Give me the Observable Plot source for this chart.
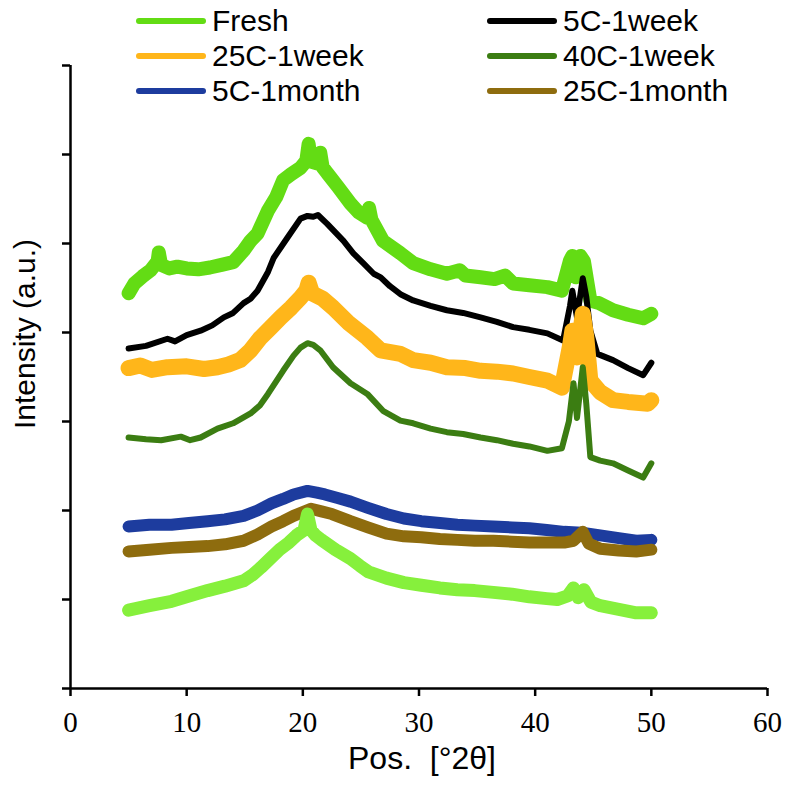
<!DOCTYPE html>
<html>
<head>
<meta charset="utf-8">
<script src="https://cdn.jsdelivr.net/npm/d3@7"></script>
<script src="https://cdn.jsdelivr.net/npm/@observablehq/plot@0.6"></script>
<style>
html, body { margin: 0; padding: 0; background: #fff; }
#wrap { position: relative; width: 786px; height: 786px; }
#legend { position: absolute; left: 0; top: 0; width: 786px; height: 110px; font-family: Arial, "Liberation Sans", sans-serif; font-size: 30px; color: #000; }
.item { position: absolute; display: flex; align-items: center; white-space: nowrap; line-height: 1; }
.sw { width: 70px; height: 6px; border-radius: 3px; margin-right: 6px; }
</style>
</head>
<body>
<div id="wrap"><div id="legend"></div></div>
<script>
// x: Pos. [°2θ]; y: intensity in tick units (a.u.)
const fresh = [[5,4.44],[5.5,4.55],[6.2,4.63],[6.9,4.70],[7.5,4.80],[7.6,4.90],[7.8,4.76],[8.5,4.72],[9.2,4.74],[10,4.72],[11,4.71],[12,4.73],[13,4.76],[14,4.79],[14.9,4.92],[15.5,5.03],[16.1,5.11],[17,5.37],[17.7,5.52],[18.3,5.71],[19,5.78],[19.8,5.85],[20.3,5.93],[20.5,6.12],[20.7,5.92],[21.2,5.90],[21.5,6.02],[21.7,5.86],[22.1,5.79],[23,5.64],[24.1,5.45],[24.8,5.35],[25.55,5.29],[25.7,5.40],[25.9,5.27],[26.9,5.03],[28.4,4.89],[29.5,4.78],[31,4.71],[32.4,4.66],[33.5,4.70],[34,4.64],[35.3,4.62],[36.5,4.60],[37.4,4.64],[38.1,4.55],[39.5,4.53],[41.05,4.51],[42.3,4.47],[43.0,4.81],[43.2,4.86],[43.5,4.62],[43.9,4.86],[44.2,4.80],[44.75,4.36],[45.5,4.33],[46.7,4.25],[48,4.20],[49.3,4.16],[50,4.21]];
const c5week = [[5,3.82],[6.5,3.85],[8.35,3.93],[9,3.90],[10,3.97],[11.2,4.02],[12.2,4.08],[13.2,4.17],[14,4.22],[14.9,4.33],[15.5,4.38],[16.1,4.47],[17,4.68],[17.5,4.84],[18.7,5.07],[19.8,5.28],[20.4,5.31],[20.9,5.30],[21.3,5.32],[22.1,5.22],[23.5,5.03],[24.35,4.89],[25.2,4.78],[26.1,4.66],[26.7,4.62],[27.5,4.52],[28.4,4.43],[29.5,4.36],[31,4.30],[32.4,4.25],[33.8,4.22],[35.3,4.17],[36.7,4.12],[38.1,4.06],[39.5,4.03],[41.05,3.99],[42.4,3.91],[43.0,4.30],[43.2,4.47],[43.6,4.17],[44.1,4.61],[44.4,4.40],[44.75,4.02],[45.35,3.76],[46.7,3.69],[48,3.60],[49.3,3.52],[50,3.66]];
const c25week = [[5,3.60],[6,3.63],[7,3.58],[8.35,3.61],[10,3.62],[11.5,3.59],[12.65,3.61],[13.6,3.64],[14.6,3.69],[15.5,3.80],[16.35,3.94],[17.2,4.05],[18.1,4.17],[19,4.28],[19.8,4.39],[20.3,4.47],[20.5,4.56],[20.8,4.44],[21.7,4.38],[22.6,4.28],[24,4.10],[25.55,3.94],[26.7,3.80],[28.4,3.76],[29.5,3.69],[31,3.66],[32.4,3.61],[34,3.60],[35.3,3.57],[36.7,3.56],[38.1,3.54],[39.5,3.50],[41.05,3.46],[42.3,3.38],[43.0,3.85],[43.2,4.02],[43.6,3.72],[44.1,4.21],[44.4,3.95],[44.75,3.46],[45.6,3.33],[46.7,3.24],[48,3.22],[49.7,3.20],[50,3.24]];
const c40week = [[5,2.82],[6.5,2.80],[7.8,2.79],[9.5,2.83],[10.3,2.79],[11.2,2.82],[12.65,2.92],[14.0,2.98],[15.5,3.09],[16.3,3.18],[17.0,3.31],[18.3,3.57],[19.2,3.74],[19.8,3.83],[20.4,3.88],[20.9,3.86],[21.5,3.80],[22.6,3.61],[24.1,3.43],[25.55,3.31],[26.9,3.12],[28.4,3.01],[29.5,2.98],[31,2.92],[32.4,2.88],[33.8,2.86],[35.3,2.82],[36.7,2.79],[38.1,2.75],[39.5,2.72],[41.05,2.67],[42.3,2.70],[42.9,3.00],[43.3,3.43],[43.6,3.04],[44.1,3.61],[44.4,3.20],[44.75,2.60],[45.6,2.56],[46.7,2.53],[48,2.45],[49.3,2.37],[50,2.53]];
const c5month = [[5,1.82],[6.8,1.84],[8.7,1.84],[10.2,1.86],[11.8,1.88],[13.3,1.90],[14.9,1.94],[16.1,2.00],[17.3,2.08],[18.3,2.13],[19.2,2.18],[20.4,2.22],[21.2,2.20],[21.9,2.18],[23,2.14],[24.1,2.10],[25.6,2.03],[27.2,1.96],[28.7,1.91],[30.2,1.88],[31.8,1.86],[33.3,1.84],[34.8,1.83],[36.4,1.82],[38,1.81],[39.5,1.80],[41,1.78],[42.5,1.76],[44,1.75],[45.6,1.72],[47.2,1.69],[48.7,1.66],[50,1.67]];
const c25month = [[5,1.54],[6.8,1.56],[8.7,1.58],[10.2,1.59],[11.8,1.60],[13.3,1.62],[14.9,1.66],[16.1,1.73],[17.3,1.82],[18.3,1.88],[19.2,1.94],[20.7,2.02],[21.6,1.99],[22.5,1.96],[24.1,1.88],[25.6,1.81],[27.2,1.74],[28.7,1.71],[30.2,1.70],[31.8,1.68],[33.3,1.67],[34.8,1.66],[36.4,1.66],[38,1.65],[39.5,1.64],[41,1.64],[42.5,1.64],[43.3,1.66],[44.1,1.76],[44.6,1.63],[45.6,1.57],[47.2,1.55],[48.7,1.54],[50,1.56]];
const freshLower = [[5,0.88],[6.8,0.93],[8.7,0.98],[10.2,1.04],[11.8,1.10],[13.3,1.15],[14.9,1.21],[15.7,1.28],[16.4,1.36],[17.2,1.46],[18.0,1.56],[18.8,1.64],[19.45,1.72],[20.1,1.78],[20.4,1.96],[20.7,1.78],[21.1,1.72],[21.6,1.67],[22.8,1.56],[24.1,1.46],[24.9,1.38],[25.65,1.31],[27.2,1.24],[28.7,1.19],[30.2,1.16],[31.8,1.13],[33.3,1.11],[34.8,1.10],[36.4,1.08],[38,1.06],[39.5,1.03],[41.0,1.01],[41.9,1.00],[42.8,1.04],[43.3,1.13],[43.7,1.02],[44.2,1.11],[44.8,0.97],[45.6,0.93],[47.2,0.89],[48.7,0.85],[50,0.85]];

const seriesNames = ["Fresh", "5C-1week", "25C-1week", "40C-1week", "5C-1month", "25C-1month", "Fresh (lower trace)"];
const seriesColors = ["#63dc14", "#000000", "#ffb61a", "#3b7d12", "#1d3c9e", "#8e6c0e", "#86f03c"];
const seriesWidths = [14, 6, 16, 6, 12, 12, 13];
const seriesData = [fresh, c5week, c25week, c40week, c5month, c25month, freshLower];
const legendNames = ["Fresh", "5C-1week", "25C-1week", "40C-1week", "5C-1month", "25C-1month"];

const xTicks = [0, 10, 20, 30, 40, 50, 60];
const yTicks = [0, 1, 2, 3, 4, 5, 6, 7];

const lineMarks = seriesData.map((d, i) => Plot.line(d, {
  x: p => p[0], y: p => p[1],
  stroke: seriesColors[i], strokeWidth: seriesWidths[i],
  strokeLinejoin: "round", strokeLinecap: "round"
}));

const sans = "Arial, 'Liberation Sans', sans-serif";
const chart = Plot.plot({
  width: 786, height: 786,
  marginLeft: 70, marginRight: 19, marginTop: 65, marginBottom: 98,
  style: { background: "#fff", overflow: "visible" },
  x: { domain: [0, 60] },
  y: { domain: [0, 7] },
  marks: [
    ...lineMarks,
    Plot.axisX({ ticks: xTicks, tickSize: 8, tickPadding: 15, strokeWidth: 2.5, fontSize: 29, fontFamily: "'Liberation Serif', 'Times New Roman', serif", fill: "#000", label: null }),
    Plot.axisY({ ticks: yTicks, tickSize: 8, strokeWidth: 2.5, tickFormat: () => "", label: null }),
    Plot.ruleY([0], { strokeWidth: 2.5 }),
    Plot.ruleX([0], { strokeWidth: 2.5 }),
    Plot.text(["Intensity (a.u.)"], { frameAnchor: "left", textAnchor: "middle", rotate: -90, dx: -45, dy: -43, fontSize: 30, fontFamily: sans, fill: "#000" }),
    Plot.text(["Pos.\u00a0\u00a0[°2θ]"], { frameAnchor: "bottom", textAnchor: "middle", dx: 3, dy: 80, fontSize: 32, fontFamily: sans, fill: "#000" })
  ]
});
document.getElementById("wrap").prepend(chart);

// legend (two columns, three rows)
const legend = document.getElementById("legend");
const colLeft = [136, 487];
const rowCenter = [21, 56, 91];
legendNames.forEach((name, k) => {
  const i = seriesNames.indexOf(name);
  const item = document.createElement("div");
  item.className = "item";
  item.style.left = colLeft[k % 2] + "px";
  item.style.top = (rowCenter[Math.floor(k / 2)] - 15) + "px";
  item.style.height = "30px";
  const sw = document.createElement("div");
  sw.className = "sw";
  sw.style.background = seriesColors[i];
  const label = document.createElement("span");
  label.textContent = name;
  item.appendChild(sw);
  item.appendChild(label);
  legend.appendChild(item);
});
</script>
</body>
</html>
